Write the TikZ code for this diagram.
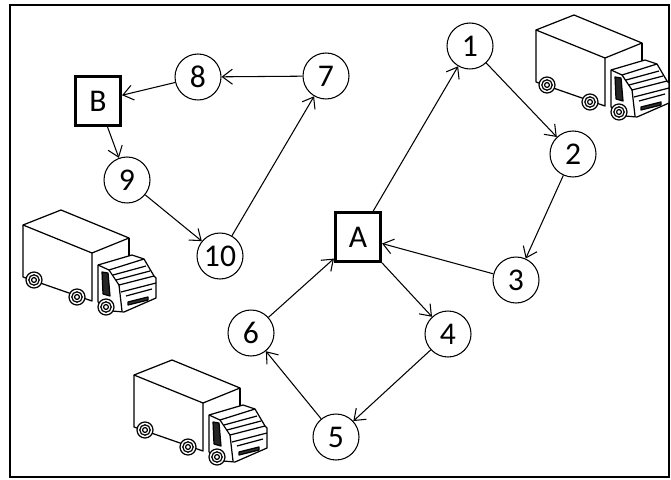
\documentclass[tikz,border=0pt]{standalone}
\usepackage{fontspec}
\setmainfont{Carlito}
\usetikzlibrary{shapes.geometric, arrows, arrows.meta, positioning}

\tikzstyle{customer} = [circle, minimum size=0.92cm, inner sep=0pt, draw=black, line width=0.6pt, fill=white, font=\fontsize{18}{21}\selectfont]
\tikzstyle{depot} = [rectangle, minimum width=0.9cm, minimum height=0.98cm, inner sep=0pt, draw=black, line width=1.8pt, fill=white, font=\fontsize{18}{21}\selectfont]
\tikzstyle{arrow} = [line width=0.6pt,->,>={Straight Barb[length=2mm,width=3mm]}]
\tikzstyle{truckline} = [line width=0.7pt, line join=round]

% delivery truck, drawn in pixel units from the top left corner
\tikzset{
  truck/.pic={
    % cargo box
    \draw[truckline] (1,15) -- (39,0) -- (107,28) -- (70,43) -- cycle;
    \draw[truckline] (1,15) -- (1,67) -- (70,91) -- (70,43);
    \draw[truckline] (107,28) -- (107,50);
    % cab
    \draw[truckline, fill=white] (76,55) -- (110,45) -- (122,49) -- (132,66) -- (134,68) -- (134,88) -- (102,102) -- (90,101) -- (76,92) -- cycle;
    \draw[truckline] (76,55) -- (87,60) -- (122,49);
    \draw[truckline] (87,60) -- (97,75) -- (132,66);
    \draw[truckline] (97,75) -- (100,101);
    \draw[truckline] (91,65) -- (124,56);
    \draw[truckline] (94,70) -- (128,61);
    % grille and bumper
    \draw[truckline] (99,82) -- (134,73);
    \draw[truckline] (104,86) -- (130,79);
    \draw[truckline, fill=black!80] (106,92) -- (126,87) -- (126,90) -- (106,95) -- cycle;
    % door window
    \draw[truckline, fill=black!85] (80,62) -- (86,63) -- (88,86) -- (81,84) -- cycle;
    % wheels
    \foreach \wx/\wy in {12/70, 55/87, 84/97} {
      \draw[truckline, fill=white] (\wx,\wy) circle (8);
      \draw[truckline] (\wx,\wy) circle (5.2);
      \draw[truckline] (\wx,\wy) circle (2.4);
    }
  }
}

\begin{document}
\begin{tikzpicture}[x=0.02cm, y=-0.02cm]
    \useasboundingbox (0,0) rectangle (671,479);
    \draw[line width=1.6pt] (10,5) rectangle (669,477);

    % trucks
    \pic at (535,15) {truck};
    \pic at (22,210) {truck};
    \pic at (133,360) {truck};

    % depots
    \node (A) [depot] at (358,237) {A};
    \node (B) [depot] at (98,101) {B};

    % customers
    \node (c1) [customer] at (470,46) {1};
    \node (c2) [customer] at (573,154) {2};
    \node (c3) [customer] at (516,280) {3};
    \node (c4) [customer] at (448,334) {4};
    \node (c5) [customer] at (336,437) {5};
    \node (c6) [customer] at (251,333) {6};
    \node (c7) [customer] at (326,76) {7};
    \node (c8) [customer] at (198,77) {8};
    \node (c9) [customer] at (127,180) {9};
    \node (c10) [customer] at (220,256) {10};

    % routes from A
    \draw [arrow] (A) -- (c1);
    \draw [arrow] (c1) -- (c2);
    \draw [arrow] (c2) -- (c3);
    \draw [arrow] (c3) -- (A);
    \draw [arrow] (A) -- (c4);
    \draw [arrow] (c4) -- (c5);
    \draw [arrow] (c5) -- (c6);
    \draw [arrow] (c6) -- (A);
    % route from B
    \draw [arrow] (c7) -- (c8);
    \draw [arrow] (c8) -- (B);
    \draw [arrow] (B) -- (c9);
    \draw [arrow] (c9) -- (c10);
    \draw [arrow] (c10) -- (c7);
\end{tikzpicture}
\end{document}
